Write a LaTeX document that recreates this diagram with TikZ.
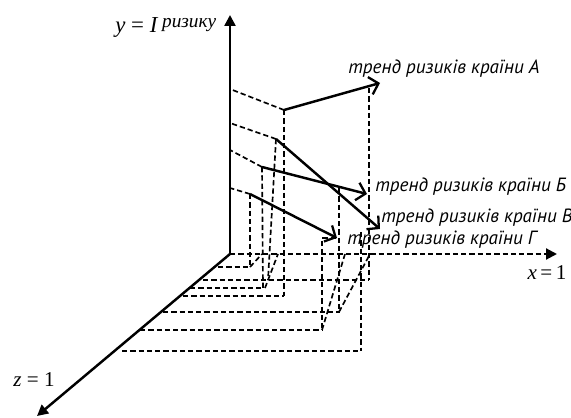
\documentclass[tikz,border=0pt]{standalone}
\usepackage{fontspec}
\setmainfont{Liberation Serif}
\newfontfamily\trendfont{PT Sans}
\usetikzlibrary{arrows.meta}

\begin{document}
\begin{tikzpicture}[
    x=0.02cm, y=-0.02cm,
    axis/.style={line width=1.4pt, -{Triangle[length=2.2mm,width=2.2mm]}},
    proj/.style={line width=0.95pt, dash pattern=on 3pt off 1.7pt},
    trend/.style={line width=1.4pt, -{Straight Barb[length=1.7mm,width=3.6mm,line width=1.3pt]}},
    lbl/.style={font=\trendfont\itshape\fontsize{10.9}{13}\selectfont, anchor=west, inner sep=0pt},
    axlbl/.style={font=\fontsize{12}{14}\selectfont, inner sep=0pt}
  ]
    \useasboundingbox (0,0) rectangle (571,418);
    % axes
    \coordinate (o) at (230,254);
    \coordinate (ytip) at (230,15);
    \coordinate (xtip) at (557,254);
    \coordinate (ztip) at (37,416);
    \draw[axis] (o) -- (ytip);
    \draw[axis] (o) -- (ztip);
    \draw[proj, line width=1.2pt, -{Triangle[length=2.2mm,width=2.2mm]}] (o) -- (xtip);
    \node[axlbl, anchor=west] (ylab) at (115,27)
      {\fontsize{13}{14}\selectfont\textit{y} = \textit{I}\,\raisebox{0.45ex}{\fontsize{11}{12}\selectfont\textit{ризику}}};
    \node[axlbl] (zlab) at (34,380) {\textit{z} = 1};
    \node[axlbl] (xlab) at (547,273) {\textit{x}\,=\,1};

    % start and end points of the trends
    \coordinate (sA) at (284,110);
    \coordinate (sV) at (276,139);
    \coordinate (sB) at (262,167);
    \coordinate (sG) at (250,194);
    \coordinate (eA) at (380,83);
    \coordinate (eB) at (367,194);
    \coordinate (eV) at (380,229);
    \coordinate (eG) at (337,238);
    \coordinate (cross) at (339,188);

    % dashed lines to the y axis
    \draw[proj] (sA) -- (230,89);
    \draw[proj] (sV) -- (230,123);
    \draw[proj] (sB) -- (230,150);
    \draw[proj] (sG) -- (230,188);

    % dashed verticals down to the floor
    \draw[proj] (sA) -- (284,296);
    \draw[proj] (369,88) -- (369,280);
    \draw[proj] (sB) -- (263,288);
    \draw[proj] (sG) -- (250,267);
    \draw[proj] (sV) -- (268,280);
    \draw[proj] (cross) -- (339,312);
    \draw[proj] (336,238) -- (322,238) -- (322,330);
    \draw[proj] (361,232) -- (361,351);

    % floor lines back to the z axis
    \draw[proj] (218,267) -- (250,267);
    \draw[proj] (203,280) -- (369,280);
    \draw[proj] (190,288) -- (263,288);
    \draw[proj] (183,296) -- (284,296);
    \draw[proj] (163,312) -- (339,312);
    \draw[proj] (140,330) -- (322,330);
    \draw[proj] (122,351) -- (361,351);

    % floor lines to the x axis
    \draw[proj] (250,267) -- (262,254);
    \draw[proj] (265,288) -- (278,254);
    \draw[proj] (322,330) -- (345,254);
    \draw[proj] (339,312) -- (370,254);

    % trends
    \draw[trend] (sA) -- (eA);
    \draw[trend] (sB) -- (eB);
    \draw[trend] (sV) -- (eV);
    \draw[trend] (sG) -- (eG);

    \node[lbl] (lA) at (348,69) {тренд ризиків країни А};
    \node[lbl] (lB) at (375,187) {тренд ризиків країни Б};
    \node[lbl] (lV) at (381,218) {тренд ризиків країни В};
    \node[lbl] (lG) at (347,240) {тренд ризиків країни Г};
  \end{tikzpicture}
\end{document}
